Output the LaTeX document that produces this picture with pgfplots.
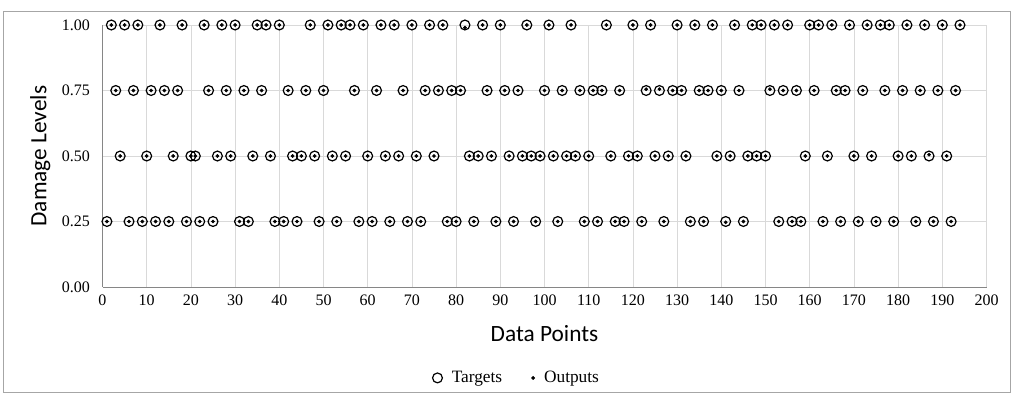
\documentclass[border=0pt]{standalone}
\usepackage{pgfplots}
\pgfplotsset{compat=1.18}
\usepackage{pgfplotstable}
\usepackage{fontspec}
\setmainfont{Liberation Serif}
\newfontfamily\calib{Carlito}
\definecolor{gridc}{HTML}{D9D9D9}
\definecolor{axc}{HTML}{868686}
\pgfplotstableread{
x t o
1 0.25 0.25
2 1.00 1.00
3 0.75 0.75
4 0.50 0.50
5 1.00 1.00
6 0.25 0.25
7 0.75 0.75
8 1.00 1.00
9 0.25 0.25
10 0.50 0.50
11 0.75 0.75
12 0.25 0.25
13 1.00 1.00
14 0.75 0.75
15 0.25 0.25
16 0.50 0.50
17 0.75 0.75
18 1.00 1.00
19 0.25 0.25
20 0.50 0.50
21 0.50 0.50
22 0.25 0.25
23 1.00 1.00
24 0.75 0.75
25 0.25 0.25
26 0.50 0.50
27 1.00 1.00
28 0.75 0.75
29 0.50 0.50
30 1.00 1.00
31 0.25 0.25
32 0.75 0.75
33 0.25 0.25
34 0.50 0.50
35 1.00 1.00
36 0.75 0.75
37 1.00 1.00
38 0.50 0.50
39 0.25 0.25
40 1.00 1.00
41 0.25 0.25
42 0.75 0.75
43 0.50 0.50
44 0.25 0.25
45 0.50 0.50
46 0.75 0.75
47 1.00 1.00
48 0.50 0.50
49 0.25 0.25
50 0.75 0.75
51 1.00 1.00
52 0.50 0.50
53 0.25 0.25
54 1.00 1.00
55 0.50 0.50
56 1.00 1.00
57 0.75 0.75
58 0.25 0.25
59 1.00 1.00
60 0.50 0.50
61 0.25 0.25
62 0.75 0.75
63 1.00 1.00
64 0.50 0.50
65 0.25 0.25
66 1.00 1.00
67 0.50 0.50
68 0.75 0.75
69 0.25 0.25
70 1.00 1.00
71 0.50 0.50
72 0.25 0.25
73 0.75 0.75
74 1.00 1.00
75 0.50 0.50
76 0.75 0.75
77 1.00 1.00
78 0.25 0.25
79 0.75 0.75
80 0.25 0.25
81 0.75 0.75
82 1.00 0.99
83 0.50 0.50
84 0.25 0.25
85 0.50 0.50
86 1.00 1.00
87 0.75 0.75
88 0.50 0.50
89 0.25 0.25
90 1.00 1.00
91 0.75 0.75
92 0.50 0.50
93 0.25 0.25
94 0.75 0.75
95 0.50 0.50
96 1.00 1.00
97 0.50 0.50
98 0.25 0.25
99 0.50 0.50
100 0.75 0.75
101 1.00 1.00
102 0.50 0.50
103 0.25 0.25
104 0.75 0.75
105 0.50 0.50
106 1.00 1.00
107 0.50 0.50
108 0.75 0.75
109 0.25 0.25
110 0.50 0.50
111 0.75 0.75
112 0.25 0.25
113 0.75 0.75
114 1.00 1.00
115 0.50 0.50
116 0.25 0.25
117 0.75 0.75
118 0.25 0.25
119 0.50 0.50
120 1.00 1.00
121 0.50 0.50
122 0.25 0.25
123 0.75 0.755
124 1.00 1.00
125 0.50 0.50
126 0.75 0.755
127 0.25 0.25
128 0.50 0.50
129 0.75 0.75
130 1.00 1.00
131 0.75 0.75
132 0.50 0.50
133 0.25 0.25
134 1.00 1.00
135 0.75 0.75
136 0.25 0.25
137 0.75 0.75
138 1.00 1.00
139 0.50 0.50
140 0.75 0.75
141 0.25 0.247
142 0.50 0.50
143 1.00 1.00
144 0.75 0.75
145 0.25 0.25
146 0.50 0.50
147 1.00 1.00
148 0.50 0.50
149 1.00 1.00
150 0.50 0.50
151 0.75 0.755
152 1.00 1.00
153 0.25 0.25
154 0.75 0.75
155 1.00 1.00
156 0.25 0.25
157 0.75 0.75
158 0.25 0.25
159 0.50 0.50
160 1.00 1.00
161 0.75 0.75
162 1.00 1.00
163 0.25 0.25
164 0.50 0.50
165 1.00 1.00
166 0.75 0.75
167 0.25 0.25
168 0.75 0.75
169 1.00 1.00
170 0.50 0.50
171 0.25 0.25
172 0.75 0.75
173 1.00 1.00
174 0.50 0.50
175 0.25 0.25
176 1.00 1.00
177 0.75 0.75
178 1.00 1.00
179 0.25 0.25
180 0.50 0.50
181 0.75 0.75
182 1.00 1.00
183 0.50 0.50
184 0.25 0.25
185 0.75 0.75
186 1.00 1.00
187 0.50 0.505
188 0.25 0.25
189 0.75 0.75
190 1.00 1.00
191 0.50 0.50
192 0.25 0.25
193 0.75 0.75
194 1.00 1.00
}\data

\begin{document}
\begin{tikzpicture}
\path[use as bounding box] (0,0) rectangle (760.5pt,297pt);
\draw[color=gray!70, line width=0.6pt] (2.25pt,3pt) rectangle (757.5pt,288.75pt);
\begin{axis}[
  at={(76.875pt,81.75pt)}, anchor=south west,
  scale only axis, width=663pt, height=196.5pt,
  xmin=0, xmax=200, ymin=0, ymax=1,
  xtick={0,10,...,200},
  ytick={0,0.25,0.5,0.75,1},
  axis x line=bottom, axis y line=left,
  axis line style={-, draw=axc, line width=0.6pt},
  grid=major, grid style={draw=gridc, line width=0.6pt},
  major tick length=0pt,
  clip=false,
  /pgf/number format/assume math mode=true,
  tick label style={font=\fontsize{12}{14}\selectfont},
  yticklabel style={/pgf/number format/fixed, /pgf/number format/fixed zerofill, /pgf/number format/precision=2, xshift=-6pt},
  xticklabel style={yshift=-2pt},
  xlabel={Data Points},
  ylabel={Damage Levels},
  every axis x label/.style={at={(axis description cs:0.5,-0.179)}, anchor=center, font=\calib\fontsize{17.5}{20}\selectfont},
  every axis y label/.style={at={(axis description cs:-0.0705,0.5)}, rotate=90, anchor=center, font=\calib\fontsize{17.5}{20}\selectfont},
  legend style={at={(axis description cs:0.469,-0.347)}, anchor=center, draw=none, fill=none,
    font=\fontsize{13}{15}\selectfont, legend columns=2,
    /tikz/every even column/.append style={column sep=20pt},
    /tikz/every odd column/.append style={column sep=3pt}},
]
\addplot[only marks, mark=o, mark size=3.7pt, mark options={draw=black, line width=0.9pt}] table[x=x, y=t] {\data};
\addlegendentry{\hspace{2pt}Targets}
\addplot[only marks, mark=*, mark size=1.2pt, mark options={draw=black, fill=black}] table[x=x, y=o] {\data};
\addlegendentry{\hspace{2pt}Outputs}
\end{axis}
\end{tikzpicture}
\end{document}
